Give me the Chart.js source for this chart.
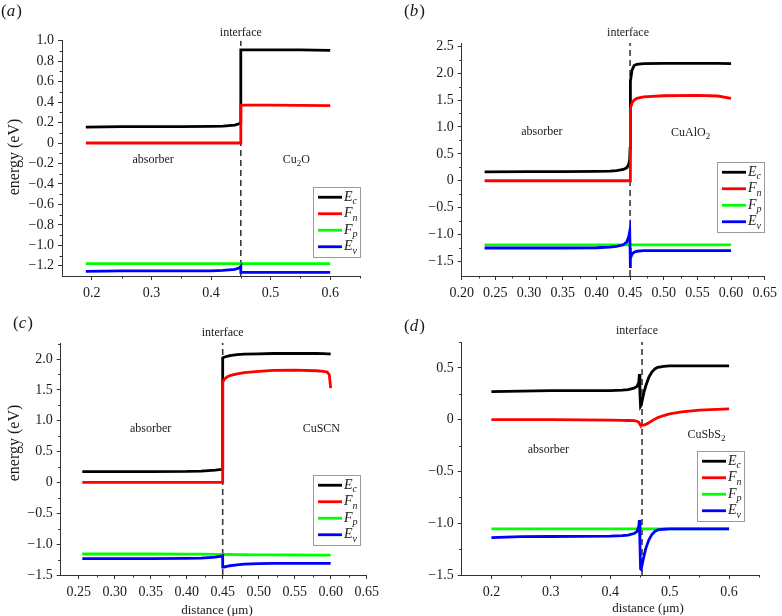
<!DOCTYPE html>
<html lang="en">
<head>
<meta charset="UTF-8">
<title>Energy band diagrams</title>
<script src="https://cdn.jsdelivr.net/npm/chart.js@4.4.0/dist/chart.umd.min.js"></script>
<style>
  html, body { margin: 0; padding: 0; background: #fff; overflow: hidden; }
  body { width: 782px; height: 616px; position: relative; }
  canvas { position: absolute; }
</style>
</head>
<body>
<canvas id="chartA" width="391" height="300" style="left:0;top:0"></canvas>
<canvas id="chartB" width="391" height="300" style="left:391px;top:0"></canvas>
<canvas id="chartC" width="391" height="316" style="left:0;top:300px"></canvas>
<canvas id="chartD" width="391" height="316" style="left:391px;top:300px"></canvas>
<script>
// ---- data (distance in um, energy in eV) ----

// (a) absorber / Cu2O
const distA = [0.19, 0.25, 0.30, 0.35, 0.40, 0.42, 0.44, 0.448, 0.45, 0.45, 0.452, 0.50, 0.55, 0.60];
const ecA = [0.155, 0.16, 0.16, 0.16, 0.162, 0.165, 0.175, 0.19, 0.20, 0.91, 0.91, 0.91, 0.91, 0.905];
const fnA = [0, 0, 0, 0, 0, 0, 0, 0, 0, 0.37, 0.37, 0.37, 0.368, 0.366];
const fpA = [-1.18, -1.18, -1.18, -1.18, -1.18, -1.18, -1.18, -1.18, -1.18, -1.18, -1.18, -1.18, -1.18, -1.18];
const evA = [-1.255, -1.25, -1.25, -1.25, -1.25, -1.245, -1.235, -1.22, -1.205, -1.265, -1.265, -1.265, -1.265, -1.265];

// (b) absorber / CuAlO2
const distB = [0.234, 0.30, 0.35, 0.40, 0.42, 0.43, 0.44, 0.445, 0.448, 0.4495, 0.45, 0.45, 0.451, 0.453, 0.456, 0.46, 0.47, 0.50, 0.55, 0.58, 0.60];
const ecB = [0.165, 0.17, 0.17, 0.175, 0.18, 0.19, 0.21, 0.24, 0.30, 0.40, 0.60, 1.30, 1.85, 2.06, 2.14, 2.165, 2.175, 2.18, 2.18, 2.18, 2.175];
const fnB = [0, 0, 0, 0, 0, 0, 0, 0, 0, 0, 0, 1.15, 1.35, 1.45, 1.50, 1.53, 1.56, 1.58, 1.585, 1.575, 1.53];
const fpB = [-1.19, -1.19, -1.19, -1.19, -1.19, -1.19, -1.19, -1.19, -1.19, -1.19, -1.19, -1.19, -1.19, -1.19, -1.19, -1.19, -1.19, -1.19, -1.19, -1.19, -1.19];
const evB = [-1.25, -1.25, -1.25, -1.245, -1.235, -1.22, -1.19, -1.14, -1.04, -0.94, -1.25, -1.62, -1.44, -1.36, -1.33, -1.31, -1.30, -1.30, -1.30, -1.30, -1.30];

// (c) absorber / CuSCN
const distC = [0.255, 0.30, 0.35, 0.40, 0.42, 0.44, 0.448, 0.45, 0.45, 0.452, 0.456, 0.46, 0.47, 0.48, 0.50, 0.52, 0.55, 0.58, 0.59, 0.595, 0.598, 0.60];
const ecC = [0.175, 0.175, 0.175, 0.178, 0.185, 0.20, 0.21, 0.215, 2.02, 2.03, 2.045, 2.055, 2.07, 2.08, 2.085, 2.09, 2.09, 2.09, 2.088, 2.085, 2.083, 2.08];
const fnC = [0, 0, 0, 0, 0, 0, 0, 0, 1.62, 1.67, 1.71, 1.73, 1.76, 1.78, 1.80, 1.815, 1.82, 1.81, 1.80, 1.79, 1.75, 1.53];
const fpC = [-1.16, -1.16, -1.16, -1.162, -1.163, -1.165, -1.166, -1.166, -1.166, -1.167, -1.168, -1.168, -1.17, -1.172, -1.174, -1.175, -1.176, -1.177, -1.177, -1.177, -1.177, -1.177];
const evC = [-1.235, -1.235, -1.233, -1.23, -1.225, -1.21, -1.195, -1.185, -1.37, -1.37, -1.36, -1.35, -1.335, -1.325, -1.315, -1.31, -1.31, -1.31, -1.312, -1.313, -1.313, -1.313];

// (d) absorber / CuSbS2
const distD = [0.20, 0.25, 0.30, 0.35, 0.40, 0.42, 0.43, 0.44, 0.445, 0.448, 0.449, 0.45, 0.451, 0.452, 0.454, 0.457, 0.46, 0.465, 0.47, 0.475, 0.48, 0.49, 0.50, 0.52, 0.55, 0.58, 0.60];
const ecD = [0.27, 0.275, 0.28, 0.28, 0.28, 0.285, 0.29, 0.305, 0.32, 0.36, 0.44, 0.25, 0.13, 0.14, 0.19, 0.27, 0.33, 0.41, 0.46, 0.49, 0.505, 0.515, 0.52, 0.52, 0.52, 0.52, 0.52];
const fnD = [0, 0, 0, -0.002, -0.005, -0.007, -0.008, -0.01, -0.015, -0.025, -0.035, -0.045, -0.05, -0.052, -0.052, -0.05, -0.045, -0.03, -0.012, 0.005, 0.02, 0.04, 0.055, 0.075, 0.092, 0.10, 0.105];
const fpD = [-1.055, -1.055, -1.055, -1.055, -1.055, -1.055, -1.055, -1.055, -1.055, -1.055, -1.055, -1.055, -1.055, -1.055, -1.055, -1.055, -1.055, -1.055, -1.055, -1.055, -1.055, -1.055, -1.055, -1.055, -1.055, -1.055, -1.055];
const evD = [-1.14, -1.13, -1.128, -1.127, -1.125, -1.12, -1.115, -1.10, -1.08, -1.03, -0.97, -1.20, -1.44, -1.445, -1.39, -1.31, -1.24, -1.16, -1.11, -1.08, -1.065, -1.058, -1.055, -1.055, -1.055, -1.055, -1.055];

// series names ('_' = next char subscript)
const seriesNames = ['E_c', 'F_n', 'F_p', 'E_v'];
const seriesColors = ['#000000', '#ff0000', '#00ff00', '#0000ff'];

// tick values
const yTicksA = [-1.2, -1.0, -0.8, -0.6, -0.4, -0.2, 0, 0.2, 0.4, 0.6, 0.8, 1.0];
const yMinorA = [-1.1, -0.9, -0.7, -0.5, -0.3, -0.1, 0.1, 0.3, 0.5, 0.7, 0.9];
const xTicksA = [0.2, 0.3, 0.4, 0.5, 0.6];
const xMinorA = [0.25, 0.35, 0.45, 0.55, 0.65];

const yTicksB = [-1.5, -1.0, -0.5, 0, 0.5, 1.0, 1.5, 2.0, 2.5];
const yMinorB = [-1.25, -0.75, -0.25, 0.25, 0.75, 1.25, 1.75, 2.25];
const xTicksB = [0.20, 0.25, 0.30, 0.35, 0.40, 0.45, 0.50, 0.55, 0.60, 0.65];
const xMinorB = [0.225, 0.275, 0.325, 0.375, 0.425, 0.475, 0.525, 0.575, 0.625];

const yTicksC = [-1.5, -1.0, -0.5, 0, 0.5, 1.0, 1.5, 2.0];
const yMinorC = [-1.25, -0.75, -0.25, 0.25, 0.75, 1.25, 1.75, 2.25];
const xTicksC = [0.25, 0.30, 0.35, 0.40, 0.45, 0.50, 0.55, 0.60, 0.65];
const xMinorC = [0.275, 0.325, 0.375, 0.425, 0.475, 0.525, 0.575, 0.625];

const yTicksD = [-1.5, -1.0, -0.5, 0, 0.5];
const yMinorD = [-1.25, -0.75, -0.25, 0.25, 0.75];
const xTicksD = [0.2, 0.3, 0.4, 0.5, 0.6];
const xMinorD = [0.25, 0.35, 0.45, 0.55, 0.65];

// ---- helpers ----
const SERIF = '"Liberation Serif", "Times New Roman", serif';
const INK = '#1a1a1a';

function fmt(v, dec) {
  if (Math.abs(v) < 1e-9) return '0';
  return v.toFixed(dec).replace('-', '\u2212');
}

// text with '_' subscripts
function drawRich(ctx, str, x, y, size, o = {}) {
  const runs = [];
  for (let i = 0; i < str.length; i++) {
    if (str[i] === '_') runs.push({ t: str[++i], sub: true });
    else if (runs.length && !runs[runs.length - 1].sub) runs[runs.length - 1].t += str[i];
    else runs.push({ t: str[i], sub: false });
  }
  const style = o.italic ? 'italic ' : '';
  const fontOf = r => style + (r.sub ? Math.round(size * 0.72) : size) + 'px ' + SERIF;
  ctx.save();
  ctx.translate(x, y);
  if (o.rotate) ctx.rotate(o.rotate);
  let w = 0;
  runs.forEach(r => { ctx.font = fontOf(r); r.w = ctx.measureText(r.t).width; w += r.w; });
  let cx = o.align === 'left' ? 0 : -w / 2;
  ctx.fillStyle = INK;
  ctx.textBaseline = 'middle';
  ctx.textAlign = 'left';
  runs.forEach(r => {
    ctx.font = fontOf(r);
    ctx.fillText(r.t, cx, r.sub ? size * 0.32 : 0);
    cx += r.w;
  });
  ctx.restore();
}

function drawTag(ctx, letter, x, y) {
  ctx.save();
  ctx.fillStyle = INK;
  ctx.textBaseline = 'middle';
  ctx.textAlign = 'left';
  ctx.font = '17px ' + SERIF;
  ctx.fillText('(', x, y);
  let cx = x + ctx.measureText('(').width;
  ctx.font = 'italic 17px ' + SERIF;
  ctx.fillText(letter, cx, y);
  cx += ctx.measureText(letter).width + 1;
  ctx.font = '17px ' + SERIF;
  ctx.fillText(')', cx, y);
  ctx.restore();
}

function decorFor(p) {
  return {
    id: 'decor',
    afterDraw(chart) {
      const { ctx, chartArea: a, scales: { x, y } } = chart;
      // minor ticks
      ctx.save();
      ctx.strokeStyle = '#333';
      ctx.lineWidth = 1;
      ctx.beginPath();
      p.yMinor.forEach(v => {
        const py = Math.round(y.getPixelForValue(v)) + 0.5;
        ctx.moveTo(a.left, py); ctx.lineTo(a.left - 2.5, py);
      });
      p.xMinor.forEach(v => {
        const px = Math.round(x.getPixelForValue(v)) + 0.5;
        ctx.moveTo(px, a.bottom); ctx.lineTo(px, a.bottom + 2.5);
      });
      ctx.stroke();
      ctx.restore();

      drawTag(ctx, p.tag, p.tagPos[0], p.tagPos[1]);
      drawRich(ctx, 'interface', x.getPixelForValue(p.ifaceLabelX), a.top - p.ifaceLabelDy, 12);
      drawRich(ctx, 'absorber', x.getPixelForValue(p.absorber[0]), y.getPixelForValue(p.absorber[1]), 12);
      drawRich(ctx, p.material, x.getPixelForValue(p.matPos[0]), y.getPixelForValue(p.matPos[1]), 12);
      if (p.yTitle) drawRich(ctx, 'energy (eV)', p.yTitle[0], p.yTitle[1], 16, { rotate: -Math.PI / 2 });
      if (p.xTitle) drawRich(ctx, 'distance (\u03bcm)', p.xTitle[0], p.xTitle[1], 13);

      // legend box
      const L = p.legend;
      ctx.save();
      ctx.fillStyle = '#fff';
      ctx.fillRect(L[0], L[1], 47, 70);
      ctx.strokeStyle = '#9a9a9a';
      ctx.lineWidth = 1;
      ctx.strokeRect(L[0] + 0.5, L[1] + 0.5, 47, 70);
      const step = 16.5;
      const y0 = L[1] + 35 - step * 1.5;
      chart.data.datasets.slice(0, 4).forEach((d, i) => {
        const yy = y0 + i * step;
        ctx.strokeStyle = d.borderColor;
        ctx.lineWidth = 2.8;
        ctx.beginPath();
        ctx.moveTo(L[0] + 5, yy); ctx.lineTo(L[0] + 29, yy);
        ctx.stroke();
        drawRich(ctx, d.label, L[0] + 31, yy, 14, { italic: true, align: 'left' });
      });
      ctx.restore();
    }
  };
}

function makePanel(p) {
  const series = [p.ec, p.fn, p.fp, p.ev];
  const datasets = series.map((vals, i) => ({
    label: seriesNames[i],
    data: p.dist.map((d, k) => ({ x: d, y: vals[k] })),
    borderColor: seriesColors[i],
    borderWidth: 2.8,
    pointRadius: 0,
    tension: 0,
    fill: false,
    order: 3 - i
  }));
  datasets.push({
    label: 'interface',
    data: [{ x: p.iface, y: p.yRange[0] }, { x: p.iface, y: p.yRange[1] }],
    borderColor: '#3a3a3a',
    borderWidth: 1.6,
    borderDash: [6, 4],
    pointRadius: 0,
    order: 9
  });

  const tickFont = { family: SERIF, size: 14 };
  new Chart(document.getElementById(p.id), {
    type: 'line',
    data: { datasets },
    options: {
      responsive: false,
      animation: false,
      devicePixelRatio: 1,
      layout: { padding: p.pad },
      plugins: { legend: { display: false }, tooltip: { enabled: false } },
      scales: {
        x: {
          type: 'linear',
          min: p.xRange[0],
          max: p.xRange[1],
          afterFit: s => { s.height = p.xH; },
          afterBuildTicks: s => { s.ticks = p.xTicks.map(v => ({ value: v })); },
          ticks: { callback: v => fmt(v, p.xDec), font: tickFont, color: INK, padding: 5, maxRotation: 0, autoSkip: false },
          grid: { drawOnChartArea: false, tickLength: 4, tickColor: '#333' },
          border: { color: '#333', width: 1 }
        },
        y: {
          type: 'linear',
          min: p.yRange[0],
          max: p.yRange[1],
          afterFit: s => { s.width = p.yW; },
          afterBuildTicks: s => { s.ticks = p.yTicks.map(v => ({ value: v })); },
          ticks: { callback: v => fmt(v, 1), font: tickFont, color: INK, padding: 4 },
          grid: { drawOnChartArea: false, tickLength: 4, tickColor: '#333' },
          border: { color: '#333', width: 1 }
        }
      }
    },
    plugins: [decorFor(p)]
  });
}

makePanel({
  id: 'chartA', tag: 'a', tagPos: [1, 12],
  dist: distA, ec: ecA, fn: fnA, fp: fpA, ev: evA,
  xRange: [0.15, 0.65], yRange: [-1.3, 1.0],
  xTicks: xTicksA, xMinor: xMinorA, yTicks: yTicksA, yMinor: yMinorA, xDec: 1,
  pad: { left: 0, top: 40.7, right: 31, bottom: 0 }, yW: 62, xH: 24,
  iface: 0.45, ifaceLabelX: 0.45, ifaceLabelDy: 8,
  absorber: [0.303, -0.166], material: 'Cu_2O', matPos: [0.543, -0.166],
  legend: [313, 187], yTitle: [15, 157]
});

makePanel({
  id: 'chartB', tag: 'b', tagPos: [13, 12],
  dist: distB, ec: ecB, fn: fnB, fp: fpB, ev: evB,
  xRange: [0.20, 0.65], yRange: [-1.77, 2.56],
  xTicks: xTicksB, xMinor: xMinorB, yTicks: yTicksB, yMinor: yMinorB, xDec: 2,
  pad: { left: 0, top: 43, right: 14.3, bottom: 0 }, yW: 70.7, xH: 24,
  iface: 0.45, ifaceLabelX: 0.447, ifaceLabelDy: 10,
  absorber: [0.319, 0.9], material: 'CuAlO_2', matPos: [0.54, 0.89],
  legend: [326, 162]
});

makePanel({
  id: 'chartC', tag: 'c', tagPos: [13, 24],
  dist: distC, ec: ecC, fn: fnC, fp: fpC, ev: evC,
  xRange: [0.225, 0.65], yRange: [-1.5, 2.26],
  xTicks: xTicksC, xMinor: xMinorC, yTicks: yTicksC, yMinor: yMinorC, xDec: 2,
  pad: { left: 0, top: 43, right: 24.3, bottom: 0 }, yW: 60.7, xH: 41,
  iface: 0.45, ifaceLabelX: 0.45, ifaceLabelDy: 10,
  absorber: [0.35, 0.87], material: 'CuSCN', matPos: [0.587, 0.87],
  legend: [313, 175], yTitle: [15, 143], xTitle: [217, 311]
});

makePanel({
  id: 'chartD', tag: 'd', tagPos: [13, 27],
  dist: distD, ec: ecD, fn: fnD, fp: fpD, ev: evD,
  xRange: [0.15, 0.65], yRange: [-1.5, 0.75],
  xTicks: xTicksD, xMinor: xMinorD, yTicks: yTicksD, yMinor: yMinorD, xDec: 1,
  pad: { left: 0, top: 42, right: 23.2, bottom: 0 }, yW: 70.7, xH: 41,
  iface: 0.4535, ifaceLabelX: 0.445, ifaceLabelDy: 11,
  absorber: [0.296, -0.294], material: 'CuSbS_2', matPos: [0.562, -0.143],
  legend: [306, 151], xTitle: [257, 309]
});
</script>
</body>
</html>
